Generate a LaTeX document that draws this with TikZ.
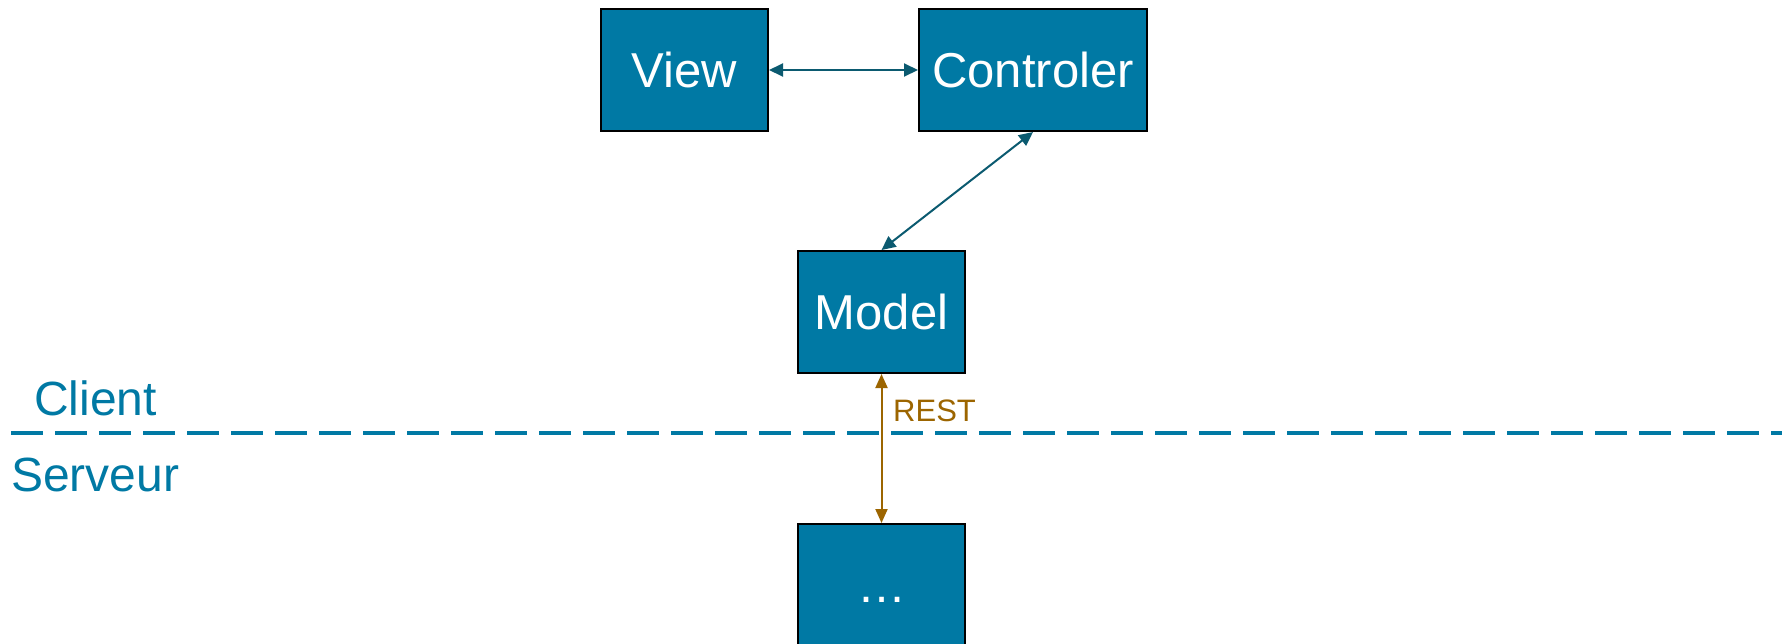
\documentclass[tikz,border=0pt]{standalone}
\usepackage{fontspec}
\setmainfont{Liberation Sans}
\usetikzlibrary{arrows.meta}
\definecolor{boxblue}{RGB}{0,121,164}
\definecolor{arrowteal}{RGB}{11,90,112}
\definecolor{restbrown}{RGB}{156,101,0}
\tikzset{
  mvcbox/.style={draw=black, line width=2pt, fill=boxblue, text=white, inner sep=0pt,
    minimum height=122pt, text height=35pt, text depth=0pt, font=\fontsize{49}{58}\selectfont},
  link/.style={draw=arrowteal, line width=2pt, {Triangle[length=14pt,width=13pt]}-{Triangle[length=14pt,width=13pt]}},
  restlink/.style={draw=restbrown, line width=2pt, {Triangle[length=14pt,width=12pt]}-{Triangle[length=14pt,width=12pt]}},
  sidelabel/.style={text=boxblue, inner sep=0pt, anchor=base west, font=\fontsize{48}{58}\selectfont}
}
\begin{document}
\begin{tikzpicture}[x=1pt,y=-1pt]
\useasboundingbox (0,0) rectangle (1782,643);
\begin{scope}
\clip (0,0) rectangle (1782,643);
\node[mvcbox, minimum width=167pt] (view) at (684.5,70) {View};
\node[mvcbox, minimum width=228pt] (ctrl) at (1033,70) {Controler};
\node[mvcbox, minimum width=167pt] (model) at (881.5,312) {Model};
\node[mvcbox, minimum width=167pt] (dots) at (881.5,585) {\ldots};
\end{scope}
\coordinate (dashL) at (11,433);
\coordinate (dashR) at (1782,433);
\draw[boxblue, line width=4pt, dash pattern=on 32pt off 12pt] (dashL) -- (dashR);
\draw[link] (view.east) -- (ctrl.west);
\draw[link] (ctrl.south) -- (model.north);
\draw[restlink] (model.south) -- (dots.north);
\node[sidelabel] (client) at (34,415) {Client};
\node[sidelabel] (serveur) at (11,491) {Serveur};
\node[inner sep=0pt, anchor=base west, text=restbrown, font=\fontsize{31}{38}\selectfont] (rest) at (893,421) {REST};
\end{tikzpicture}
\end{document}
